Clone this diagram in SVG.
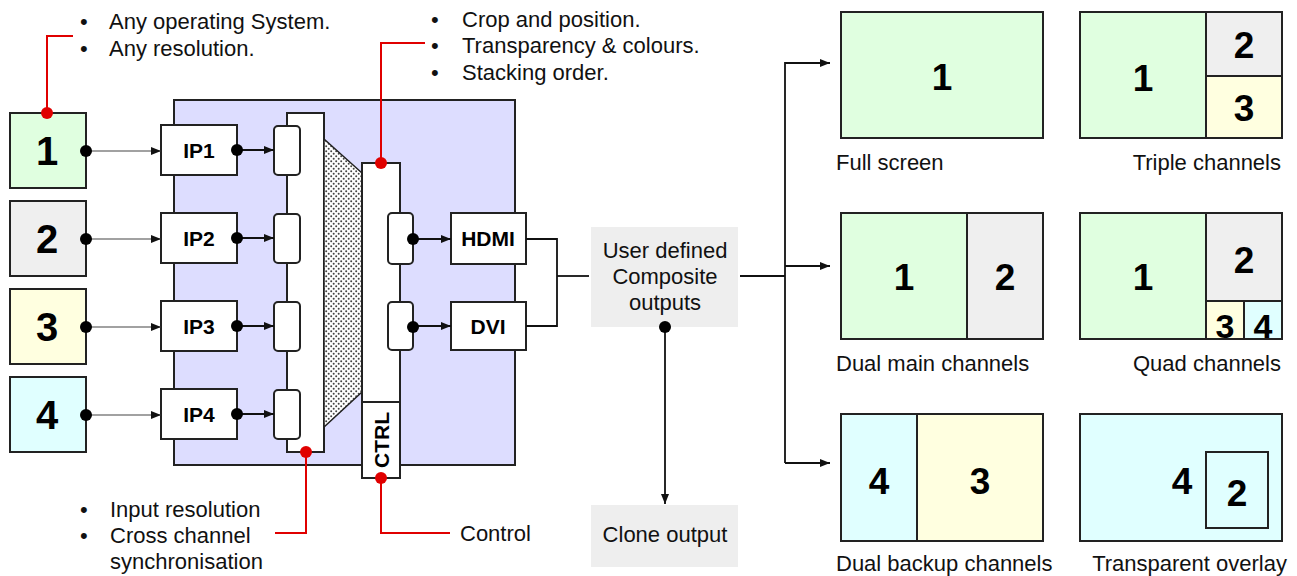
<svg xmlns="http://www.w3.org/2000/svg" width="1297" height="576" viewBox="0 0 1297 576">
<style>
.t{font-family:"Liberation Sans",Arial,sans-serif;font-size:22px;fill:#111}
.b{font-family:"Liberation Sans",Arial,sans-serif;font-weight:bold;fill:#000;text-anchor:middle}
.n{font-size:40px}
.s{font-size:37px}
.lb{font-size:21px}
.box{stroke:#222;stroke-width:2}
.w{fill:#fff;stroke:#222;stroke-width:2}
.ln{fill:none;stroke:#111;stroke-width:1.8}
.gl{fill:none;stroke:#444;stroke-width:1.2}
.red{fill:none;stroke:#e00000;stroke-width:2}
.g{fill:#e0ffe0}.gy{fill:#efefef}.y{fill:#ffffe0}.c{fill:#e0ffff}
</style>
<defs>
<marker id="ar" viewBox="0 0 10 10" refX="10" refY="5" markerWidth="10" markerHeight="10" markerUnits="userSpaceOnUse" orient="auto"><path d="M0,1 L10,5 L0,9 z" fill="#111"/></marker>
<pattern id="dots" width="5" height="5" patternUnits="userSpaceOnUse"><rect width="5" height="5" fill="#fff"/><circle cx="1.2" cy="1.2" r="1" fill="#444"/><circle cx="3.7" cy="3.7" r="1" fill="#444"/></pattern>
</defs>
<rect width="1297" height="576" fill="#fff"/>

<g id="main-box"><rect x="174" y="100" width="341" height="365" fill="#ddddff" stroke="#222" stroke-width="2"/></g>

<g id="inputs">
<g id="in1"><rect class="box g" x="10" y="113" width="76" height="75"/><text class="b n" x="47" y="165">1</text></g>
<g id="in2"><rect class="box gy" x="10" y="201" width="76" height="75"/><text class="b n" x="47" y="253">2</text></g>
<g id="in3"><rect class="box y" x="10" y="289" width="76" height="75"/><text class="b n" x="47" y="341">3</text></g>
<g id="in4"><rect class="box c" x="10" y="377" width="76" height="75"/><text class="b n" x="47" y="429">4</text></g>
</g>

<g id="mixer">
<rect class="w" x="287" y="113" width="37" height="339"/>
<polygon points="324,139 362,173 362,392 324,427" fill="url(#dots)" stroke="#222" stroke-width="1.5"/>
<rect class="w" x="362" y="163" width="38" height="315"/>
<line x1="362" y1="402" x2="400" y2="402" stroke="#222" stroke-width="2"/>
<text class="b lb" transform="translate(389,440) rotate(-90)">CTRL</text>
<rect class="w" x="274" y="126" width="26" height="49" rx="4"/>
<rect class="w" x="274" y="214" width="26" height="49" rx="4"/>
<rect class="w" x="274" y="302" width="26" height="49" rx="4"/>
<rect class="w" x="274" y="390" width="26" height="49" rx="4"/>
<rect class="w" x="388" y="213" width="25" height="51" rx="4"/>
<rect class="w" x="388" y="302" width="25" height="48" rx="4"/>
</g>

<g id="ip1"><rect class="w" x="161" y="125" width="76" height="50"/><text class="b lb" x="199" y="158">IP1</text></g>
<g id="ip2"><rect class="w" x="161" y="213" width="76" height="50"/><text class="b lb" x="199" y="246">IP2</text></g>
<g id="ip3"><rect class="w" x="161" y="301" width="76" height="50"/><text class="b lb" x="199" y="334">IP3</text></g>
<g id="ip4"><rect class="w" x="161" y="389" width="76" height="50"/><text class="b lb" x="199" y="422">IP4</text></g>
<g id="hdmi"><rect class="w" x="451" y="213" width="75" height="51"/><text class="b lb" x="488" y="246">HDMI</text></g>
<g id="dvi"><rect class="w" x="451" y="302" width="75" height="48"/><text class="b lb" x="488" y="334">DVI</text></g>

<g id="composite"><rect x="591" y="227" width="147" height="100" fill="#eeeeee"/>
<text class="t" text-anchor="middle" x="665" y="258">User defined</text>
<text class="t" text-anchor="middle" x="665" y="284">Composite</text>
<text class="t" text-anchor="middle" x="665" y="310">outputs</text></g>
<g id="clone"><rect x="591" y="505" width="147" height="62" fill="#eeeeee"/>
<text class="t" text-anchor="middle" x="665" y="542">Clone output</text></g>

<g id="connectors">
<line class="gl" x1="86" y1="151" x2="161" y2="151" marker-end="url(#ar)"/>
<line class="gl" x1="86" y1="239" x2="161" y2="239" marker-end="url(#ar)"/>
<line class="gl" x1="86" y1="327" x2="161" y2="327" marker-end="url(#ar)"/>
<line class="gl" x1="86" y1="415" x2="161" y2="415" marker-end="url(#ar)"/>
<line class="ln" x1="237" y1="150" x2="274" y2="150" marker-end="url(#ar)"/>
<line class="ln" x1="237" y1="238" x2="274" y2="238" marker-end="url(#ar)"/>
<line class="ln" x1="237" y1="326" x2="274" y2="326" marker-end="url(#ar)"/>
<line class="ln" x1="237" y1="414" x2="274" y2="414" marker-end="url(#ar)"/>
<line class="ln" x1="413" y1="239" x2="451" y2="239" marker-end="url(#ar)"/>
<line class="ln" x1="413" y1="326" x2="451" y2="326" marker-end="url(#ar)"/>
<polyline class="ln" points="526,239 557,239 557,326 526,326"/>
<line class="ln" x1="557" y1="276" x2="589" y2="276"/>
<line class="ln" x1="665" y1="327" x2="665" y2="504" marker-end="url(#ar)"/>
<line class="ln" x1="740" y1="276" x2="785" y2="276"/>
<polyline class="ln" points="785,463 785,63 830,63" marker-end="url(#ar)"/>
<line class="ln" x1="785" y1="463" x2="830" y2="463" marker-end="url(#ar)"/>
<line class="ln" x1="785" y1="266" x2="830" y2="266" marker-end="url(#ar)"/>
<g fill="#000">
<circle cx="86" cy="151" r="6"/><circle cx="86" cy="239" r="6"/><circle cx="86" cy="327" r="6"/><circle cx="86" cy="415" r="6"/>
<circle cx="237" cy="150" r="6"/><circle cx="237" cy="238" r="6"/><circle cx="237" cy="326" r="6"/><circle cx="237" cy="414" r="6"/>
<circle cx="413" cy="239" r="6"/><circle cx="413" cy="327" r="6"/>
<circle cx="665" cy="327" r="6"/>
</g>
<polyline class="red" points="47,113 47,36 73,36"/>
<polyline class="red" points="381,163 381,43 425,43"/>
<polyline class="red" points="306,452 306,533 275,533"/>
<polyline class="red" points="381,478 381,533 450,533"/>
<g fill="#e00000">
<circle cx="47" cy="113" r="6"/><circle cx="381" cy="163" r="6"/><circle cx="306" cy="452" r="6"/><circle cx="381" cy="478" r="6"/>
</g>
</g>

<g id="notes">
<text class="t" x="80" y="29">•</text><text class="t" x="109" y="29">Any operating System.</text>
<text class="t" x="80" y="56">•</text><text class="t" x="109" y="56">Any resolution.</text>
<text class="t" x="431" y="27">•</text><text class="t" x="462" y="27">Crop and position.</text>
<text class="t" x="431" y="53">•</text><text class="t" x="462" y="53">Transparency &amp; colours.</text>
<text class="t" x="431" y="80">•</text><text class="t" x="462" y="80">Stacking order.</text>
<text class="t" x="80" y="517">•</text><text class="t" x="110" y="517">Input resolution</text>
<text class="t" x="80" y="543">•</text><text class="t" x="110" y="543">Cross channel</text>
<text class="t" x="110" y="569">synchronisation</text>
<text class="t" x="460" y="541">Control</text>
</g>

<g id="full-screen"><rect class="box g" x="841" y="12" width="202" height="126"/><text class="b s" x="942" y="90">1</text>
<text class="t" x="836" y="170">Full screen</text></g>
<g id="triple"><rect class="box g" x="1080" y="12" width="202" height="126"/>
<rect class="box gy" x="1206" y="12" width="76" height="64"/><rect class="box y" x="1206" y="76" width="76" height="62"/>
<text class="b s" x="1143" y="91">1</text><text class="b s" x="1244" y="58">2</text><text class="b s" x="1244" y="121">3</text>
<text class="t" x="1281" y="170" text-anchor="end">Triple channels</text></g>
<g id="dual-main"><rect class="box g" x="841" y="213" width="126" height="126"/><rect class="box gy" x="967" y="213" width="76" height="126"/>
<text class="b s" x="904" y="290">1</text><text class="b s" x="1005" y="290">2</text>
<text class="t" x="836" y="371">Dual main channels</text></g>
<g id="quad"><rect class="box g" x="1080" y="213" width="202" height="126"/>
<rect class="box gy" x="1206" y="213" width="76" height="88"/><rect class="box y" x="1206" y="301" width="38" height="38"/><rect class="box c" x="1244" y="301" width="38" height="38"/>
<text class="b s" x="1143" y="290">1</text><text class="b s" x="1244" y="273">2</text>
<text class="b" style="font-size:34px" x="1225" y="338">3</text><text class="b" style="font-size:34px" x="1263" y="338">4</text>
<text class="t" x="1281" y="371" text-anchor="end">Quad channels</text></g>
<g id="dual-backup"><rect class="box c" x="841" y="414" width="76" height="127"/><rect class="box y" x="917" y="414" width="126" height="127"/>
<text class="b s" x="879" y="494">4</text><text class="b s" x="980" y="494">3</text>
<text class="t" x="836" y="571">Dual backup channels</text></g>
<g id="overlay"><rect class="box c" x="1080" y="414" width="202" height="127"/><rect class="box c" x="1206" y="452" width="62" height="76"/>
<text class="b s" x="1182" y="494">4</text><text class="b s" x="1237" y="506">2</text>
<text class="t" x="1287" y="571" text-anchor="end">Transparent overlay</text></g>
</svg>
